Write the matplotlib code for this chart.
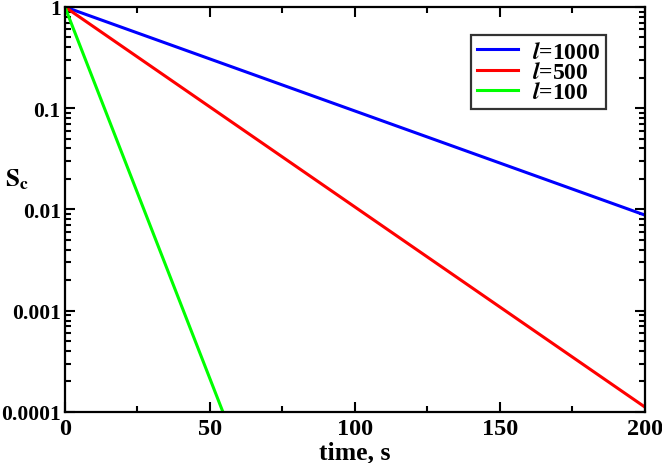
import matplotlib.pyplot as plt
import matplotlib.ticker as mticker

# data (straight lines on log axis)
t_1000 = [0, 200]
s_1000 = [1.0, 0.0088]
t_500 = [0, 200]
s_500 = [1.0, 0.000112]
t_100 = [0, 54.5]
s_100 = [1.0, 0.0001]

plt.rcParams['font.family'] = 'Liberation Serif'
plt.rcParams['font.weight'] = 'bold'
plt.rcParams['mathtext.fontset'] = 'stix'

fig = plt.figure(figsize=(6.62, 4.64), dpi=100)
ax = fig.add_axes([0.098, 0.110, 0.876, 0.873])

ax.plot(t_1000, s_1000, color='#0000ff', lw=2.2, label=r'$\mathbfit{l}$=1000')
ax.plot(t_500, s_500, color='#ff0000', lw=2.2, label=r'$\mathbfit{l}$=500')
ax.plot(t_100, s_100, color='#00ff00', lw=2.2, label=r'$\mathbfit{l}$=100')

ax.set_yscale('log')
ax.set_xlim(0, 200)
ax.set_ylim(0.0001, 1)

ax.xaxis.set_major_locator(mticker.MultipleLocator(50))
ax.xaxis.set_minor_locator(mticker.MultipleLocator(25))
ax.yaxis.set_major_locator(mticker.LogLocator(base=10, numticks=10))
ax.yaxis.set_minor_locator(mticker.LogLocator(base=10, subs=range(2, 10), numticks=10))
ax.yaxis.set_major_formatter(mticker.FuncFormatter(lambda v, p: '%g' % v if v >= 0.001 else '0.0001'))
ax.yaxis.set_minor_formatter(mticker.NullFormatter())

ax.tick_params(which='both', direction='in', top=True, right=True, width=1.5)
ax.tick_params(which='major', length=7.2)
ax.tick_params(which='minor', length=4.2)
ax.tick_params(axis='x', pad=4, labelsize=17.5)
ax.tick_params(axis='y', pad=3, labelsize=15.5)
for s in ax.spines.values():
    s.set_linewidth(1.6)

ax.set_xlabel('time, s', fontsize=18.5, fontweight='bold', labelpad=1)
ax.set_ylabel(r'$\mathbf{S_c}$', fontsize=18, rotation=0)
ax.yaxis.set_label_coords(-0.082, 0.545)

leg = ax.legend(loc='upper right', bbox_to_anchor=(0.933, 0.930), fontsize=17,
                frameon=True, fancybox=False, edgecolor='black', borderpad=0.25,
                labelspacing=-0.05, handlelength=1.7, handletextpad=0.6,
                borderaxespad=0)
leg.get_frame().set_linewidth(1.6)

fig.savefig('out.png', dpi=100)
